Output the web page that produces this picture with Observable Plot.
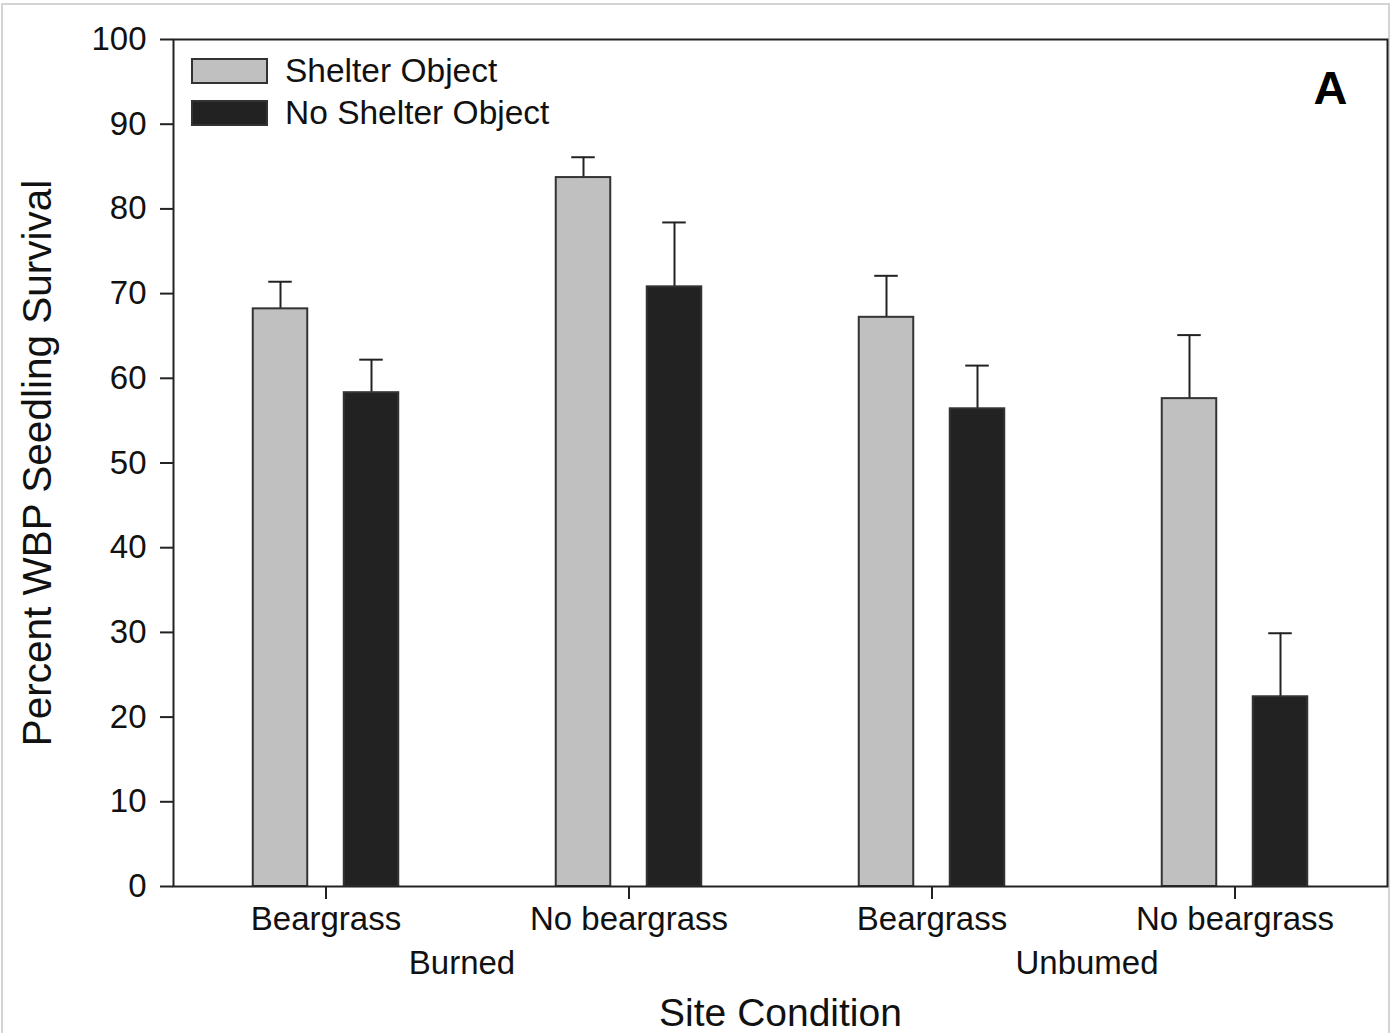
<!DOCTYPE html>
<html>
<head>
<meta charset="utf-8">
<script src="https://cdn.jsdelivr.net/npm/d3@7"></script>
<script src="https://cdn.jsdelivr.net/npm/@observablehq/plot@0.6"></script>
<style>
  html, body { margin: 0; padding: 0; background: #fff; }
  body { width: 1393px; height: 1033px; position: relative; overflow: hidden; font-family: "Liberation Sans", Arial, sans-serif; }
  #frame { position: absolute; left: 1px; top: 3px; width: 1389px; height: 1040px; border: 2px solid #d4d4d4; box-sizing: border-box; pointer-events: none; }
  #chart { position: absolute; left: 0; top: 0; }
  #legend { position: absolute; left: 191px; top: 50px; font-size: 33.5px; color: #111; }
  .row { display: flex; align-items: center; height: 42px; }
  .sw { width: 77px; height: 26px; box-sizing: border-box; border: 2px solid #333; margin-right: 17px; }
</style>
</head>
<body>
<div id="frame"></div>
<div id="chart"></div>
<div id="legend">
  <div class="row"><span class="sw" style="background:#c0c0c0"></span><span>Shelter Object</span></div>
  <div class="row"><span class="sw" style="background:#222222"></span><span>No Shelter Object</span></div>
</div>
<script>
const groups = ["Burned", "Burned", "Unbumed", "Unbumed"];
const conditions = ["Beargrass", "No beargrass", "Beargrass", "No beargrass"];
const shelter = [68.2, 83.7, 67.2, 57.6];
const shelterErr = [3.2, 2.4, 4.9, 7.5];
const noShelter = [58.3, 70.8, 56.4, 22.4];
const noShelterErr = [3.9, 7.6, 5.1, 7.5];
const yTicks = [0, 10, 20, 30, 40, 50, 60, 70, 80, 90, 100];

const keys = conditions.map((c, i) => groups[i] + "|" + c);
const rows = [];
keys.forEach((k, i) => {
  rows.push({key: k, series: "Shelter Object", value: shelter[i], err: shelterErr[i]});
  rows.push({key: k, series: "No Shelter Object", value: noShelter[i], err: noShelterErr[i]});
});
const shelterRows = rows.filter(d => d.series === "Shelter Object");
const noRows = rows.filter(d => d.series === "No Shelter Object");

const band = (1387 - 173) / 4;
const barInset = (band - 55) / 2;
const capInset = (band - 24) / 2;

const marks = [];
for (const [data, fill, off] of [[shelterRows, "#c0c0c0", -45.5], [noRows, "#222222", 45.5]]) {
  marks.push(Plot.ruleX(data, {x: "key", y1: "value", y2: d => d.value + d.err, stroke: "#222", strokeWidth: 2, dx: off}));
  marks.push(Plot.tickY(data, {x: "key", y: d => d.value + d.err, stroke: "#222", strokeWidth: 2, dx: off, insetLeft: capInset, insetRight: capInset}));
  marks.push(Plot.barY(data, {x: "key", y: "value", fill, stroke: "#333", strokeWidth: 2, dx: off, insetLeft: barInset, insetRight: barInset}));
}

const chart = Plot.plot({
  width: 1393,
  height: 1033,
  marginLeft: 173,
  marginRight: 6,
  marginTop: 39,
  marginBottom: 147,
  style: {fontFamily: "Liberation Sans, Arial, sans-serif", fontSize: "33px", color: "#111", background: "transparent", overflow: "visible"},
  x: {domain: keys, padding: 0, label: null},
  y: {domain: [0, 100], label: null},
  marks: [
    Plot.axisX({tickFormat: d => d.split("|")[1], tickSize: 13, tickPadding: 7, fontSize: 33, label: null, stroke: "#222", strokeWidth: 2}),
    Plot.axisY({ticks: yTicks, tickSize: 13, tickPadding: 14, fontSize: 33, label: null, stroke: "#222", strokeWidth: 2}),
    ...marks,
    Plot.frame({stroke: "#222", strokeWidth: 2}),
    Plot.text([keys[0]], {x: d => d, text: () => groups[0], frameAnchor: "bottom", lineAnchor: "middle", dx: 136, dy: 77, fontSize: 33, fill: "#111"}),
    Plot.text([keys[2]], {x: d => d, text: () => groups[2], frameAnchor: "bottom", lineAnchor: "middle", dx: 155, dy: 77, fontSize: 33, fill: "#111"}),
    Plot.text(["Site Condition"], {frameAnchor: "bottom", lineAnchor: "middle", textAnchor: "middle", dy: 127, fontSize: 39, fill: "#111"}),
    Plot.text(["Percent WBP Seedling Survival"], {frameAnchor: "left", textAnchor: "middle", lineAnchor: "middle", dx: -135, rotate: -90, fontSize: 40.5, fill: "#111"}),
    Plot.text(["A"], {frameAnchor: "top-right", dx: -57, dy: 49, textAnchor: "middle", lineAnchor: "middle", fontSize: 47, fontWeight: "bold", fill: "#000"})
  ]
});
document.getElementById("chart").appendChild(chart);
</script>
</body>
</html>
